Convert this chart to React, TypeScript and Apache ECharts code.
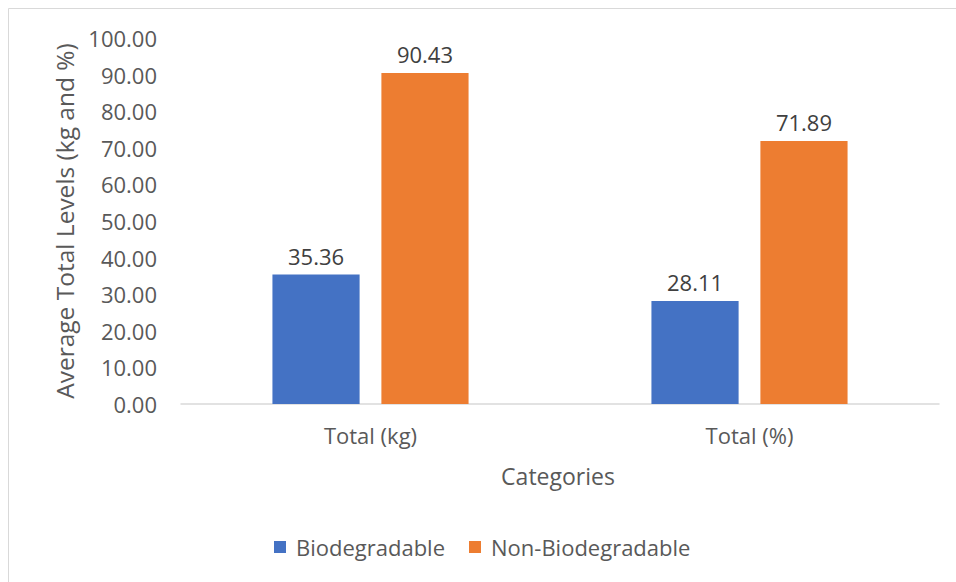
import React, { useEffect, useRef } from "react";
import * as echarts from "echarts";

const categories = ["Total (kg)", "Total (%)"];
const biodegradable = [35.36, 28.11];
const nonBiodegradable = [90.43, 71.89];
const seriesNames = ["Biodegradable", "Non-Biodegradable"];
const colors = ["#4472C4", "#ED7D31"];
const FONT = "Open Sans";

export default function App() {
  const ref = useRef<HTMLDivElement>(null);
  useEffect(() => {
    const chart = echarts.init(ref.current!, null, { renderer: "svg" });
    const label = {
      show: true,
      position: "top",
      distance: 8,
      color: "#404040",
      fontFamily: FONT,
      fontSize: 22,
      formatter: (p: any) => p.value.toFixed(2),
    };
    chart.setOption({
      animation: false,
      backgroundColor: "#fff",
      graphic: [
        {
          type: "rect",
          shape: { x: 8.5, y: 8.5, width: 1000, height: 1000 },
          style: { fill: "none", stroke: "#d9d9d9", lineWidth: 1 },
          silent: true,
        },
        {
          type: "text",
          x: 558,
          y: 476,
          style: {
            text: "Categories",
            align: "center",
            verticalAlign: "middle",
            fill: "#595959",
            font: `23px '${FONT}'`,
          },
          silent: true,
        },
      ],
      legend: {
        data: seriesNames,
        left: 274,
        top: 536,
        padding: 0,
        itemWidth: 12,
        itemHeight: 12,
        itemGap: 24,
        icon: "rect",
        textStyle: { color: "#595959", fontFamily: FONT, fontSize: 22, padding: [0, 0, 0, 5] },
      },
      grid: { left: 181, right: 17, top: 38, bottom: 178, containLabel: false },
      xAxis: {
        type: "category",
        data: categories,
        axisLine: { lineStyle: { color: "#d9d9d9", width: 1.5 } },
        axisTick: { show: false },
        axisLabel: { color: "#595959", fontFamily: FONT, fontSize: 22, margin: 20 },
      },
      yAxis: {
        type: "value",
        min: 0,
        max: 100,
        interval: 10,
        name: "Average Total Levels (kg and %)",
        nameLocation: "middle",
        nameGap: 102,
        nameTextStyle: { color: "#595959", fontFamily: FONT, fontSize: 24.5 },
        axisLine: { show: false },
        axisTick: { show: false },
        splitLine: { show: false },
        axisLabel: {
          color: "#595959",
          fontFamily: FONT,
          fontSize: 22,
          margin: 24,
          formatter: (v: number) => v.toFixed(2),
        },
      },
      series: [
        {
          name: seriesNames[0],
          type: "bar",
          data: biodegradable,
          barWidth: "23%",
          barGap: "25%",
          itemStyle: { color: colors[0] },
          label,
        },
        {
          name: seriesNames[1],
          type: "bar",
          data: nonBiodegradable,
          barWidth: "23%",
          itemStyle: { color: colors[1] },
          label,
        },
      ],
    });
    return () => chart.dispose();
  }, []);
  return (
    <div
      ref={ref}
      style={{ position: "absolute", left: 0, top: 0, width: 956, height: 582 }}
    />
  );
}
